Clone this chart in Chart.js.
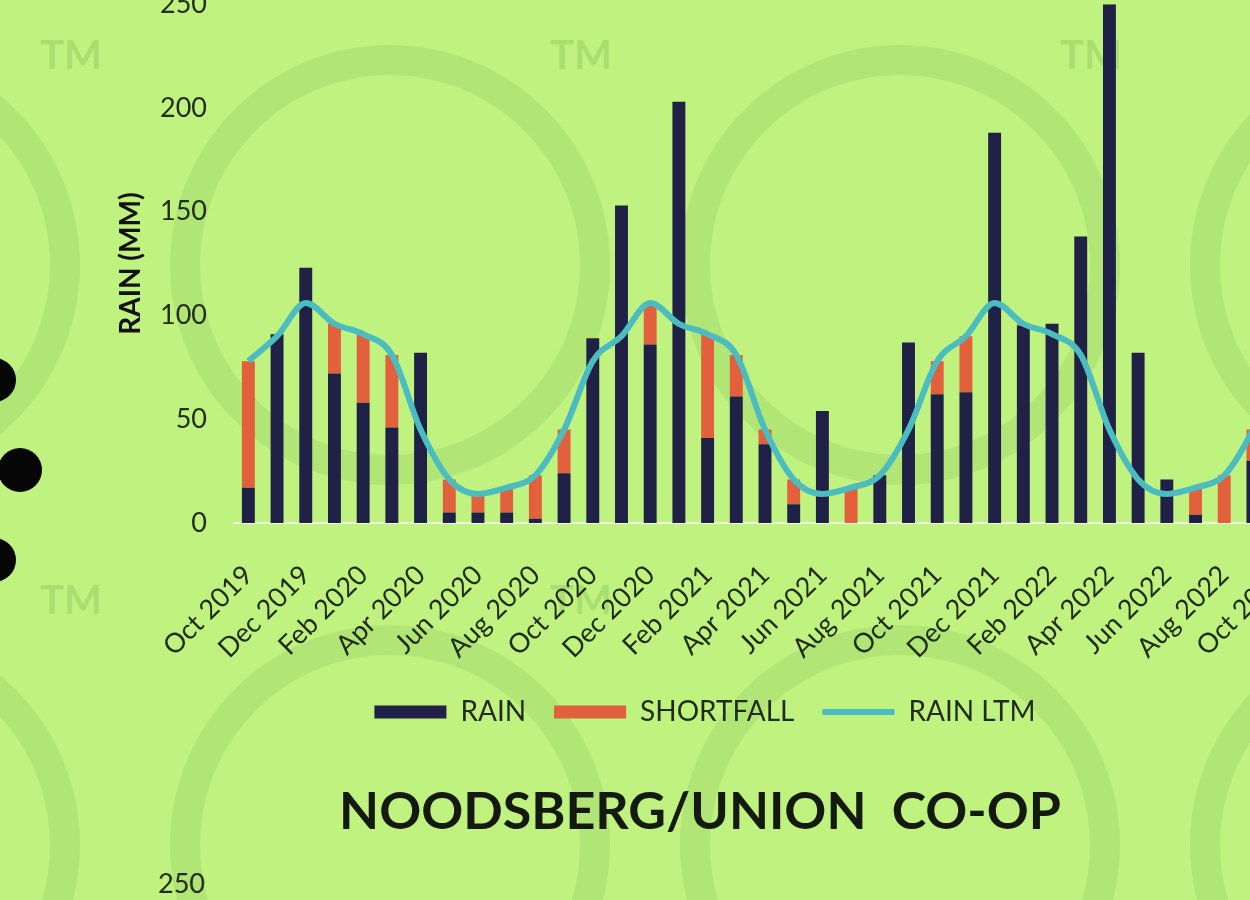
<!DOCTYPE html>
<html>
<head>
<meta charset="utf-8">
<script src="https://cdn.jsdelivr.net/npm/chart.js@4.4.1/dist/chart.umd.min.js"></script>
<style>
  html, body { margin: 0; padding: 0; }
  body { width: 1250px; height: 900px; overflow: hidden; position: relative; background: #c0f280; font-family: Lato, sans-serif; }
  .ring { position: absolute; width: 440px; height: 440px; border-radius: 50%; border: 30px solid rgba(150, 208, 100, 0.35); box-sizing: border-box; }
  .tm { position: absolute; font: 700 40px Lato, sans-serif; color: rgba(150, 208, 100, 0.55); }
  .dot { position: absolute; width: 44px; height: 44px; border-radius: 50%; background: #060606; }
  #wrap { position: absolute; left: 0; top: -39px; width: 1310px; height: 785px; }
  #title { position: absolute; left: 200px; width: 1000px; top: 778px; text-align: center; font: 700 52px Lato, sans-serif; letter-spacing: 0; color: #141a10; white-space: pre; }
  #next { position: absolute; left: 158px; top: 866px; font: 27px Lato, sans-serif; color: #222d1a; }
</style>
</head>
<body>
<!-- faint logo watermark of the slide -->
<div class="ring" style="left:-360px;top:45px"></div>
<div class="ring" style="left:170px;top:45px"></div>
<div class="ring" style="left:680px;top:45px"></div>
<div class="ring" style="left:1190px;top:45px"></div>
<div class="ring" style="left:-360px;top:625px"></div>
<div class="ring" style="left:170px;top:625px"></div>
<div class="ring" style="left:680px;top:625px"></div>
<div class="ring" style="left:1190px;top:625px"></div>
<div class="tm" style="left:40px;top:30px">TM</div>
<div class="tm" style="left:550px;top:30px">TM</div>
<div class="tm" style="left:1060px;top:30px">TM</div>
<div class="tm" style="left:40px;top:575px">TM</div>
<div class="tm" style="left:550px;top:575px">TM</div>
<div class="dot" style="left:-28px;top:358px"></div>
<div class="dot" style="left:-2px;top:448px"></div>
<div class="dot" style="left:-28px;top:538px"></div>

<div id="wrap"><canvas id="chart"></canvas></div>
<div id="title">NOODSBERG/UNION  CO-OP</div>
<div id="next">250</div>

<script>
const months = [
  'Oct 2019', 'Nov 2019', 'Dec 2019', 'Jan 2020', 'Feb 2020', 'Mar 2020',
  'Apr 2020', 'May 2020', 'Jun 2020', 'Jul 2020', 'Aug 2020', 'Sep 2020',
  'Oct 2020', 'Nov 2020', 'Dec 2020', 'Jan 2021', 'Feb 2021', 'Mar 2021',
  'Apr 2021', 'May 2021', 'Jun 2021', 'Jul 2021', 'Aug 2021', 'Sep 2021',
  'Oct 2021', 'Nov 2021', 'Dec 2021', 'Jan 2022', 'Feb 2022', 'Mar 2022',
  'Apr 2022', 'May 2022', 'Jun 2022', 'Jul 2022', 'Aug 2022', 'Sep 2022',
  'Oct 2022'
];
const rain = [
  17, 91, 123, 72, 58, 46, 82, 5, 5, 5, 2, 24,
  89, 153, 86, 203, 41, 61, 38, 9, 54, 0, 23, 87,
  62, 63, 188, 95, 96, 138, 250, 82, 21, 4, 0, 30,
  null
];
const shortfall = [
  61, 0, 0, 24, 33, 35, 0, 16, 9, 12, 21, 21,
  0, 0, 20, 0, 50, 20, 7, 12, 0, 17, 0, 0,
  16, 27, 0, 1, 0, 0, 0, 0, 0, 13, 23, 15,
  null
];
const rainLtm = [
  78, 90, 106, 96, 91, 81, 45, 21, 14, 17, 23, 45,
  78, 90, 106, 96, 91, 81, 45, 21, 14, 17, 23, 45,
  78, 90, 106, 96, 91, 81, 45, 21, 14, 17, 23, 45,
  78
];
const yTicks = [0, 50, 100, 150, 200, 250];

const FONT = 'Lato, sans-serif';
const TEXT = '#1f2a17';

new Chart(document.getElementById('chart'), {
  data: {
    labels: months,
    datasets: [
      {
        type: 'bar', label: 'RAIN', data: rain, stack: 'rain', order: 1,
        backgroundColor: '#1f2146', barPercentage: 0.9, categoryPercentage: 0.5
      },
      {
        type: 'bar', label: 'SHORTFALL', data: shortfall, stack: 'rain', order: 1,
        backgroundColor: '#e2603b', barPercentage: 0.9, categoryPercentage: 0.5
      },
      {
        type: 'line', label: 'RAIN LTM', data: rainLtm, stack: 'ltm', order: 0,
        borderColor: '#4bbcc0', borderWidth: 6, cubicInterpolationMode: 'monotone',
        pointRadius: 0, fill: false
      }
    ]
  },
  options: {
    responsive: true,
    maintainAspectRatio: false,
    animation: false,
    layout: { padding: { left: 114, top: 12, right: 14, bottom: 10 } },
    plugins: {
      tooltip: { enabled: false },
      legend: {
        position: 'bottom',
        labels: {
          usePointStyle: true,
          pointStyleWidth: 72,
          boxHeight: 13,
          padding: 28,
          color: TEXT,
          font: { family: FONT, size: 28 },
          generateLabels: chart => chart.data.datasets.map((ds, i) => ({
            text: ds.label,
            datasetIndex: i,
            pointStyle: ds.type === 'line' ? 'line' : 'rect',
            fillStyle: ds.type === 'line' ? 'transparent' : ds.backgroundColor,
            strokeStyle: ds.type === 'line' ? ds.borderColor : ds.backgroundColor,
            lineWidth: ds.type === 'line' ? 6 : 0,
            fontColor: TEXT,
            hidden: false
          }))
        }
      }
    },
    scales: {
      x: {
        stacked: true,
        offset: true,
        grid: { display: false, drawTicks: false },
        border: { display: true, color: 'rgba(255,255,255,0.75)', width: 2, dash: [3, 3] },
        afterFit: s => { s.height = 147; s.paddingRight = 0; },
        ticks: {
          autoSkip: false,
          maxRotation: 45,
          minRotation: 45,
          padding: 36,
          color: TEXT,
          font: { family: FONT, size: 27 },
          callback: (v, i) => (i % 2 === 0 ? months[i] : '')
        }
      },
      y: {
        stacked: true,
        min: 0,
        max: 250,
        grid: { display: false, drawTicks: false },
        border: { display: false },
        afterFit: s => { s.width = 120; },
        afterBuildTicks: s => { s.ticks = yTicks.map(v => ({ value: v })); },
        ticks: { padding: 27, color: '#222d1a', font: { family: FONT, size: 27 } },
        title: {
          display: true,
          text: 'RAIN (MM)',
          color: '#111',
          padding: 0,
          font: { family: FONT, size: 28, weight: 'bold' }
        }
      }
    }
  }
});
</script>
</body>
</html>
